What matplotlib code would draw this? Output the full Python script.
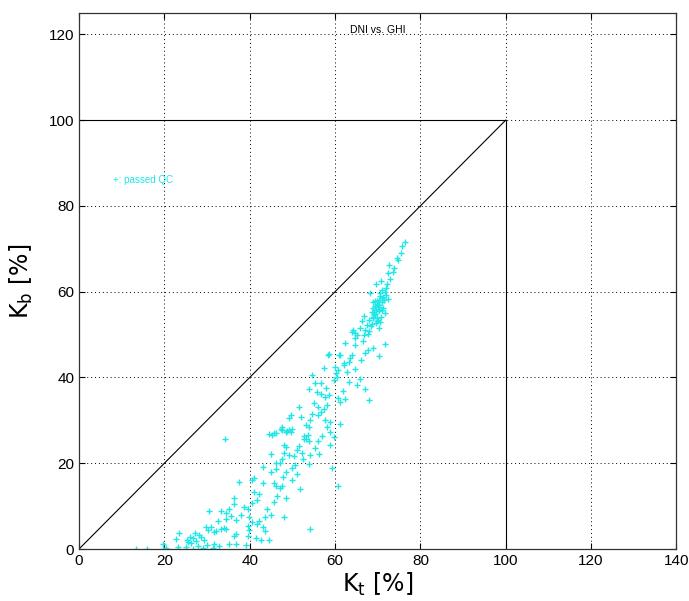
import matplotlib
matplotlib.use("Agg")
import matplotlib.pyplot as plt
import numpy as np

plt.rcParams['font.family'] = ['Liberation Sans Narrow', 'Liberation Sans', 'DejaVu Sans']

# clearness indices that passed QC
kt = [76.5, 75.8, 74.8, 75.5, 74.6, 72.7, 72.5, 73.6, 72.8, 72.1, 70.9, 70.5, 71.6, 68.2,
      70.9, 70.2, 69.8, 69.0, 68.6, 69.5, 70.3, 71.7, 69.8, 67.9, 66.3, 67.5, 67.1, 64.1,
      64.7, 65.8, 68.0, 69.2, 64.7, 70.0, 71.0, 69.4, 70.6, 71.2, 68.9, 69.9, 70.4, 71.9,
      71.6, 70.2, 69.0, 58.3, 61.0, 68.0,
      61.2, 63.2, 58.5, 62.4, 64.7, 67.1, 67.8, 65.1, 64.0, 59.9, 60.8, 60.2, 62.8, 64.6,
      54.5, 57.3, 59.7, 63.2, 65.1, 65.8, 67.1, 56.6, 55.4, 53.8, 55.8, 56.6, 57.7, 58.5,
      60.8, 61.2, 62.4, 58.1, 55.0, 51.5, 52.1, 56.6, 57.5, 56.0, 54.6, 49.2, 49.6, 47.6,
      49.2, 48.6, 49.8, 47.4, 46.1, 45.3, 44.6, 53.1, 53.8, 58.1, 58.9, 61.2, 58.9, 53.6,
      53.8, 62.0, 63.5, 66.0,
      45.7, 47.6, 48.8, 49.6, 52.7, 53.1, 57.0, 59.7, 58.9, 48.0, 48.4, 51.5, 55.3, 44.9,
      48.0, 49.2, 50.4, 52.3, 54.2, 56.2, 47.6, 46.1, 47.2, 50.7, 53.8, 43.0, 44.9, 46.1,
      48.5, 51.1, 41.0, 40.6, 37.5, 43.0, 45.7, 46.1, 47.6, 47.2, 51.9, 41.0, 42.2, 48.4,
      45.7, 41.8, 40.6, 39.5, 38.7, 36.4, 36.4, 35.2, 34.4, 30.5, 33.2, 32.6, 34.4, 35.5,
      36.8, 38.0, 39.9, 40.6, 42.2, 43.7, 44.9, 48.0, 43.0, 43.7, 39.5, 39.9, 34.4, 34.0,
      33.2, 30.9, 29.8, 30.2, 32.1, 36.8, 36.4, 31.7, 28.2, 27.1, 28.6, 26.7, 26.0, 25.2,
      26.3, 25.6, 23.5, 22.7, 23.1, 25.0, 27.5, 30.0, 31.7, 32.9, 35.2, 36.8, 39.1, 41.4,
      42.6, 44.5, 39.5, 54.2, 34.3, 60.6, 59.3, 13.4, 15.9, 19.7, 19.7, 20.5, 26.7, 29.0,
      31.3, 27.9, 29.4, 41.8, 44.0, 46.5, 50.0, 52.5, 55.9, 57.6, 61.9, 66.6, 68.7, 72.3,
      73.8, 69.7, 70.8, 66.9, 63.9, 62.1, 60.4, 57.9, 56.1, 54.1, 52.8, 51.0, 49.9, 47.8,
      69.3, 70.1, 70.7, 69.6, 68.8, 70.4, 71.3, 69.1, 70.0, 68.4, 71.0, 69.9, 70.6, 68.9,
      67.7, 70.2, 71.5, 69.4, 72.0, 66.9]
kb = [71.6, 70.6, 67.5, 69.0, 67.9, 66.3, 64.3, 64.5, 63.0, 61.9, 60.5, 59.7, 60.0, 59.8,
      58.5, 58.0, 57.2, 56.1, 55.3, 55.8, 55.5, 55.0, 53.8, 53.4, 53.2, 52.2, 51.0, 51.0,
      50.3, 51.6, 50.8, 54.6, 49.2, 56.8, 57.5, 57.9, 59.0, 58.7, 54.2, 53.2, 56.5, 60.8,
      47.8, 45.0, 46.8, 45.3, 45.2, 34.7,
      45.2, 43.7, 45.5, 48.0, 47.6, 45.6, 46.4, 49.9, 50.7, 42.5, 41.7, 41.1, 41.3, 42.0,
      40.6, 42.1, 39.4, 39.0, 38.2, 39.6, 37.4, 38.6, 38.7, 37.4, 36.7, 36.1, 35.5, 35.9,
      35.1, 34.3, 34.9, 33.6, 34.0, 33.2, 30.7, 32.0, 32.6, 31.2, 31.4, 30.5, 31.3, 28.5,
      27.7, 27.3, 28.0, 28.1, 27.0, 26.5, 26.8, 28.9, 28.4, 28.5, 29.6, 29.1, 27.4, 26.6,
      25.1, 43.0, 44.6, 44.0,
      27.1, 27.8, 27.6, 27.4, 26.3, 25.7, 26.3, 26.1, 24.2, 24.2, 23.8, 24.0, 23.6, 22.1,
      22.3, 21.9, 21.6, 22.4, 22.0, 22.2, 21.1, 20.0, 20.1, 19.6, 19.9, 19.2, 18.0, 18.6,
      18.0, 17.6, 16.5, 16.0, 15.7, 15.5, 15.3, 14.8, 14.7, 14.2, 14.1, 13.4, 12.8, 11.8,
      11.0, 11.4, 10.7, 9.3, 9.9, 11.8, 10.5, 9.3, 8.3, 8.9, 8.9, 6.6, 7.1, 7.7,
      6.8, 7.9, 7.5, 6.3, 6.6, 7.5, 7.9, 7.5, 5.2, 4.3, 5.4, 4.5, 4.6, 5.0,
      4.6, 5.2, 5.2, 4.4, 4.1, 3.6, 3.0, 3.9, 3.3, 3.7, 2.9, 2.5, 2.7, 2.1,
      1.3, 1.6, 3.7, 2.4, 0.5, 0.4, 1.8, 0.9, 1.2, 0.7, 1.2, 1.1, 1.0, 2.5,
      2.1, 2.2, 3.0, 4.6, 25.6, 14.8, 18.8, 0.0, 0.0, 1.2, 0.1, 0.3, 0.0, 0.2,
      0.3, 0.6, 2.0, 5.9, 9.4, 12.4, 16.2, 21.0, 25.3, 30.1, 36.9, 48.6, 52.4, 58.3,
      65.6, 61.9, 62.4, 54.4, 45.2, 43.4, 40.2, 37.6, 33.1, 30.0, 25.6, 23.2, 18.8, 16.7,
      54.9, 56.0, 54.0, 52.6, 53.9, 57.0, 56.3, 55.0, 53.5, 52.0, 55.8, 57.8, 52.9, 57.5,
      50.2, 51.6, 58.0, 56.7, 59.3, 49.8]

x_ticks = [0, 20, 40, 60, 80, 100, 120, 140]
y_ticks = [0, 20, 40, 60, 80, 100, 120]

fig = plt.figure(figsize=(6.89, 6.01), dpi=100)
ax = fig.add_axes([0.1147, 0.0865, 0.867, 0.892])

# limit lines: Kb = Kt and the 100 % box
ax.plot([0, 100], [0, 100], color='black', linewidth=0.8)
ax.plot([0, 100], [100, 100], color='black', linewidth=0.8)
ax.plot([100, 100], [0, 100], color='black', linewidth=0.8)

ax.plot(kt, kb, linestyle='none', marker='+', color='#22e6e6', markersize=4, markeredgewidth=1.0)

ax.text(8, 86, '+: passed QC', color='#22e6e6', fontsize=7, va='center')
ax.text(70, 121, 'DNI vs. GHI', color='black', fontsize=7.5, ha='center', va='center')

ax.set_xlim(0, 140)
ax.set_ylim(0, 125)
ax.set_xticks(x_ticks)
ax.set_yticks(y_ticks)
ax.tick_params(labelsize=11, direction='in', length=4, width=0.8, top=True, right=True)
ax.grid(True, linestyle=(0, (1, 3)), color='black', linewidth=0.7)

for s in ax.spines.values():
    s.set_linewidth(0.9)
    s.set_color('#333333')

ax.set_xlabel(r'K$_\mathrm{t}$ [%]', fontsize=17, labelpad=2, family='DejaVu Sans')
ax.set_ylabel(r'K$_\mathrm{b}$ [%]', fontsize=17, labelpad=10, family='DejaVu Sans')

fig.savefig('out.png', dpi=100)
